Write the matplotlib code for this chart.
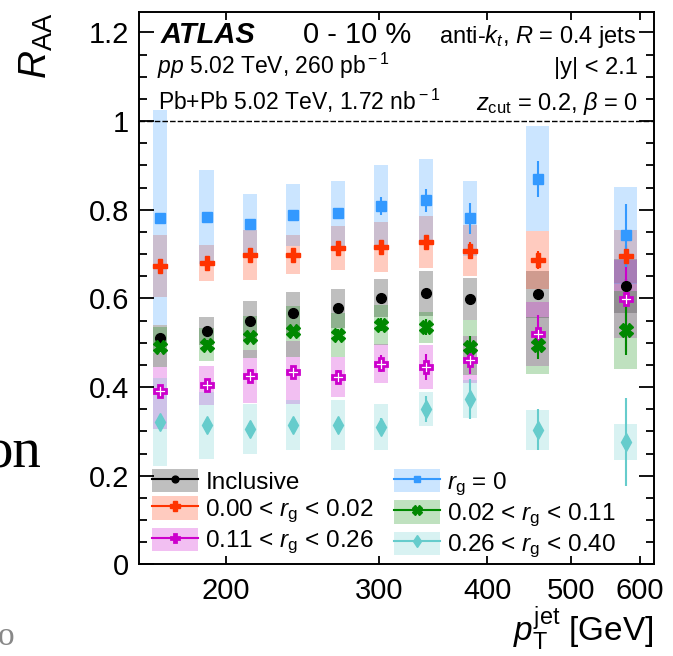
import numpy as np
import matplotlib
matplotlib.use("Agg")
from matplotlib import pyplot as plt
from matplotlib.patches import Patch
from matplotlib.lines import Line2D
from matplotlib.ticker import MultipleLocator, NullLocator, FuncFormatter

plt.rcParams["font.family"] = ["Liberation Sans", "DejaVu Sans"]
plt.rcParams["mathtext.fontset"] = "custom"
plt.rcParams["mathtext.rm"] = "Liberation Sans"
plt.rcParams["mathtext.it"] = "Liberation Sans:italic"
plt.rcParams["mathtext.bf"] = "Liberation Sans:bold"

# jet pT bin centres [GeV]
pt = [168, 190, 213, 239, 269, 302, 340, 382, 458, 578]

# R_AA values, statistical and systematic uncertainties
incl = [0.511, 0.526, 0.550, 0.567, 0.578, 0.601, 0.612, 0.598, 0.609, 0.628]
incl_stat = [0.005, 0.005, 0.005, 0.005, 0.006, 0.007, 0.008, 0.010, 0.012, 0.015]
incl_sys = [0.030, 0.032, 0.045, 0.047, 0.044, 0.043, 0.051, 0.047, 0.054, 0.060]

rg0 = [0.782, 0.783, 0.768, 0.789, 0.792, 0.808, 0.821, 0.781, 0.870, 0.742]
rg0_stat = [0.010, 0.010, 0.010, 0.010, 0.012, 0.020, 0.026, 0.035, 0.041, 0.070]
rg0_sys = [0.243, 0.106, 0.068, 0.070, 0.074, 0.092, 0.094, 0.085, 0.118, 0.109]

rg1 = [0.673, 0.680, 0.698, 0.699, 0.714, 0.716, 0.727, 0.708, 0.687, 0.695]
rg1_stat = [0.010, 0.010, 0.010, 0.010, 0.010, 0.012, 0.015, 0.020, 0.020, 0.025]
rg1_sys = [0.070, 0.040, 0.057, 0.044, 0.050, 0.056, 0.058, 0.057, 0.065, 0.060]

rg2 = [0.490, 0.496, 0.513, 0.526, 0.518, 0.541, 0.535, 0.490, 0.494, 0.528]
rg2_stat = [0.010, 0.010, 0.010, 0.010, 0.012, 0.015, 0.018, 0.025, 0.030, 0.055]
rg2_sys = [0.045, 0.037, 0.047, 0.057, 0.050, 0.045, 0.035, 0.062, 0.065, 0.088]

rg3 = [0.391, 0.404, 0.424, 0.434, 0.423, 0.453, 0.445, 0.462, 0.520, 0.599]
rg3_stat = [0.010, 0.010, 0.010, 0.012, 0.015, 0.020, 0.030, 0.032, 0.043, 0.120]
rg3_sys = [0.085, 0.044, 0.059, 0.071, 0.046, 0.044, 0.049, 0.053, 0.073, 0.088]

rg4 = [0.321, 0.314, 0.306, 0.314, 0.314, 0.311, 0.351, 0.374, 0.304, 0.276]
rg4_stat = [0.010, 0.010, 0.012, 0.012, 0.015, 0.020, 0.030, 0.045, 0.046, 0.100]
rg4_sys = [0.100, 0.076, 0.056, 0.056, 0.056, 0.052, 0.038, 0.043, 0.045, 0.040]

series = [
    ("Inclusive", incl, incl_stat, incl_sys, "black", "o", 7, "black"),
    (r"0.00 < $r_{\rm g}$ < 0.02", rg1, rg1_stat, rg1_sys, "#ff3300", "P", 10, "#ff3300"),
    (r"0.11 < $r_{\rm g}$ < 0.26", rg3, rg3_stat, rg3_sys, "#cc00cc", "P", 9, "white"),
    (r"$r_{\rm g}$ = 0", rg0, rg0_stat, rg0_sys, "#3399ff", "s", 7, "#3399ff"),
    (r"0.02 < $r_{\rm g}$ < 0.11", rg2, rg2_stat, rg2_sys, "#008800", "X", 9.5, "#008800"),
    (r"0.26 < $r_{\rm g}$ < 0.40", rg4, rg4_stat, rg4_sys, "#66cccc", "d", 9, "#66cccc"),
]

fig = plt.figure(figsize=(6.73, 6.56), dpi=100)
ax = fig.add_axes([0.2058, 0.1395, 0.766, 0.8415])
ax.set_xscale("log")

x = np.array(pt, dtype=float)
hw = x * np.where(x > 420, 0.0305, 0.0186)

handles = []
labels = []
for label, y, stat, sys, color, marker, ms, face in series:
    y = np.array(y)
    sys = np.array(sys)
    ax.bar(x - hw, 2 * sys, width=2 * hw, bottom=y - sys, align="edge",
           color=color, alpha=0.25, lw=0, zorder=1)
for label, y, stat, sys, color, marker, ms, face in series:
    mew = 2 if face == "white" else 1
    ax.errorbar(x, y, yerr=stat, fmt=marker, color=color, ms=ms, mfc=face,
                mec=color, mew=mew, elinewidth=1.5, capsize=0, zorder=3)
    handles.append((Patch(facecolor=color, alpha=0.25, lw=0),
                    Line2D([], [], color=color, marker=marker, ms=ms * 0.7,
                           mfc=face, mec=color, mew=mew, lw=1.5)))
    labels.append(label)

ax.axhline(1, color="black", lw=1, ls=(0, (4, 1.5)), zorder=2)

ax.set_xlim(158.6, 623)
ax.set_ylim(0, 1.245)
ax.set_xticks([200, 300, 400, 500, 600], labels=["200", "300", "400", "500", "600"])
ax.xaxis.set_minor_locator(NullLocator())
ax.yaxis.set_major_locator(MultipleLocator(0.2))
ax.yaxis.set_minor_locator(MultipleLocator(0.05))
ax.yaxis.set_major_formatter(FuncFormatter(lambda v, p: f"{v:g}"))
ax.tick_params(which="both", direction="in", top=True, right=True, width=1.3, labelsize=21)
ax.tick_params(axis="y", which="major", length=11, pad=7)
ax.tick_params(axis="y", which="minor", length=6)
ax.tick_params(axis="x", which="major", length=6, pad=9)
for s in ax.spines.values():
    s.set_linewidth(1.4)

ax.set_ylabel(r"$R_{\rm AA}$", loc="top", size=28)
ax.yaxis.set_label_coords(-0.162, 1.0)
ax.set_xlabel(r"$p_{\rm T}^{\rm jet}$ [GeV]", loc="right", size=24)
ax.xaxis.set_label_coords(1.0, -0.073)

tr = ax.transAxes
ax.text(0.043, 0.944, "ATLAS", weight="bold", style="italic", size=21, transform=tr, va="baseline")
ax.text(0.3185, 0.944, "0 - 10 %", size=21, transform=tr, va="baseline")
ax.text(0.966, 0.944, r"anti-$k_{t}$, $R$ = 0.4 jets", size=17, ha="right", transform=tr, va="baseline")
ax.text(0.035, 0.8886, r"$pp$ 5.02 TeV, 260 pb$^{\rm -1}$", size=16.5, transform=tr, va="baseline")
ax.text(0.969, 0.8886, "|y| < 2.1", size=17, ha="right", transform=tr, va="baseline")
ax.text(0.038, 0.8234, r"Pb+Pb 5.02 TeV, 1.72 nb$^{\rm -1}$", size=16.5, transform=tr, va="baseline")
ax.text(0.969, 0.8234, r"$z_{\rm cut}$ = 0.2, $\beta$ = 0", size=17, ha="right", transform=tr, va="baseline")

ax.legend(handles, labels, ncol=2, loc="upper left", bbox_to_anchor=(0.026, 0.173),
          frameon=False, fontsize=17.5, handlelength=1.9, handleheight=1.1,
          handletextpad=0.3, columnspacing=0.8, labelspacing=0.1,
          borderpad=0, borderaxespad=0)

# bits of slide text cut off at the left edge
fig.text(-0.023, 0.2866, "on", family="Liberation Serif", size=41, va="baseline")
fig.text(-0.004, 0.0168, "o", family="Liberation Serif", size=24, color="#888888", va="baseline")

fig.savefig("out.png", dpi=100)
